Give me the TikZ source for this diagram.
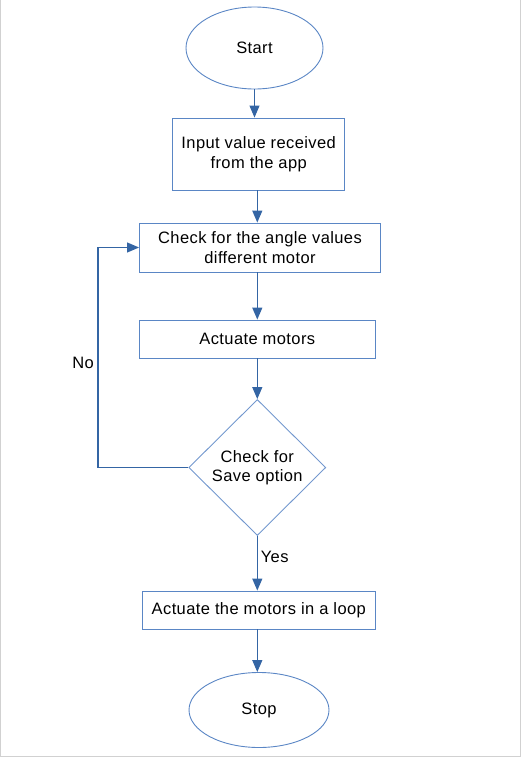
\documentclass[tikz,border=0pt]{standalone}
\usepackage{fontspec}
\setmainfont[LetterSpace=2.4]{Liberation Sans}
\usetikzlibrary{shapes.geometric,arrows.meta}
\definecolor{edgeblue}{HTML}{3465A4}
\definecolor{shapeblue}{HTML}{5A86C5}
\tikzset{
  flow/.style={draw=shapeblue,line width=0.9pt,align=center,inner sep=1pt,
    font=\fontsize{16.5}{19.5}\selectfont},
  terminal/.style={flow,ellipse},
  process/.style={flow,rectangle},
  decision/.style={flow,diamond,draw=shapeblue!85},
  arrow/.style={draw=edgeblue,line width=1.1pt,-{Triangle[length=12pt,width=10pt]}},
  lbl/.style={font=\fontsize{16.5}{19.5}\selectfont}
}
\begin{document}
\begin{tikzpicture}[x=1pt,y=-1pt]
\useasboundingbox(0,0)rectangle(523,758);
\draw[black!18,line width=1pt](0.5,0)--(0.5,756.5)--(520.5,756.5)--(520.5,0);
\node[terminal,minimum width=137pt,minimum height=82pt](start) at (254.5,48){Start};
\node[process,minimum width=172pt,minimum height=72pt](input) at (258.7,154){Input value received\\from the app};
\node[process,minimum width=241pt,minimum height=49pt](check) at (260,247.5){Check for the angle values\\different motor};
\node[process,minimum width=236pt,minimum height=38pt](act) at (257.3,339){Actuate motors};
\node[decision,minimum width=137pt,minimum height=136pt](save) at (257.3,467.5){Check for\\Save option};
\node[process,minimum width=233pt,minimum height=38pt](loop) at (258.8,610){Actuate the motors in a loop};
\node[terminal,minimum width=140pt,minimum height=75pt](stop) at (259,710){Stop};
\coordinate(noleft) at (98,0);
\draw[arrow](start.south)--(start.south|-input.north);
\draw[arrow]([xshift=-1.4pt]input.south)--([xshift=-1.4pt]input.south|-check.north);
\draw[arrow](act.north|-check.south)--(act.north);
\draw[arrow](act.south)--(save.north);
\draw[arrow](save.south)--(save.south|-loop.north);
\draw[arrow](save.south|-loop.south)--(save.south|-stop.north);
\draw[arrow](save.west)--(save.west-|noleft)|-(check.west);
\node[lbl](no) at (83,363){No};
\node[lbl](yes) at (274.7,557){Yes};
\end{tikzpicture}
\end{document}
